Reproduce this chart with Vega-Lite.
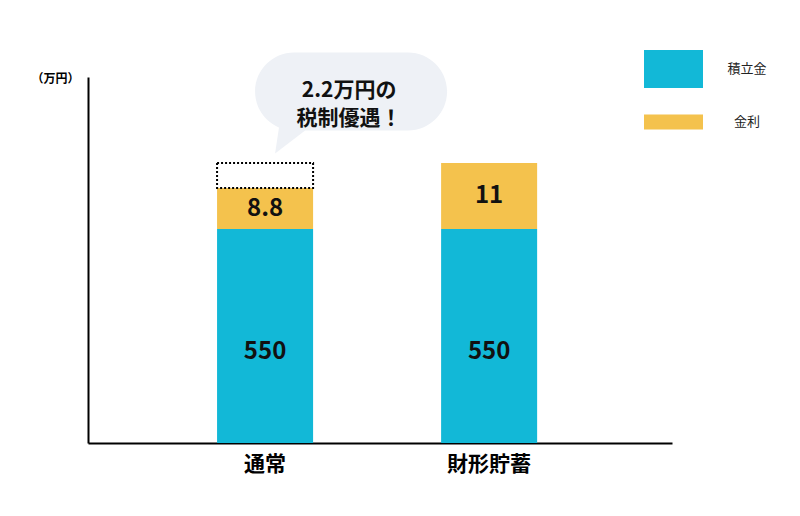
{
  "$schema": "https://vega.github.io/schema/vega-lite/v6.json",
  "width": 584,
  "height": 366,
  "autosize": "none",
  "padding": {"left": 88, "top": 77, "right": 128, "bottom": 73},
  "background": "white",
  "config": {"view": {"stroke": null}, "font": "Noto Sans CJK JP"},
  "datasets": {
    "amounts": [
      {"category": "通常", "kind": "積立金", "value": 550},
      {"category": "通常", "kind": "金利", "value": 8.8},
      {"category": "財形貯蓄", "kind": "積立金", "value": 550},
      {"category": "財形貯蓄", "kind": "金利", "value": 11}
    ],
    "benefit": [
      {"category": "通常", "from": 558.8, "to": 561, "note": "2.2万円の\n税制優遇！"}
    ]
  },
  "layer": [
    {
      "data": {"name": "amounts"},
      "mark": {"type": "bar"},
      "encoding": {
        "x": {
          "field": "category", "type": "nominal", "sort": ["通常", "財形貯蓄"],
          "scale": {"paddingInner": 0.5714, "paddingOuter": 0.589, "align": 0.489},
          "axis": {"title": null, "labelAngle": 0, "ticks": false, "grid": false, "domainColor": "#000", "domainWidth": 2,
                   "labelFontSize": 21, "labelFontWeight": "bold", "labelColor": "#000", "labelPadding": 10}
        },
        "y": {
          "field": "value", "type": "quantitative", "stack": "zero",
          "scale": {"domain": [0, 550, 558.8, 561, 570], "range": [366, 152, 111, 86, 0], "nice": false, "zero": false},
          "axis": {"title": "（万円）", "labels": false, "ticks": false, "grid": false, "domainColor": "#000", "domainWidth": 2,
                   "titleAngle": 0, "titleX": -33, "titleY": 1, "titleAlign": "center", "titleBaseline": "middle",
                   "titleFontSize": 12, "titleFontWeight": "bold", "titleColor": "#000"}
        },
        "order": {"field": "kind", "sort": "ascending"},
        "color": {
          "field": "kind", "type": "nominal",
          "scale": {"domain": ["積立金", "金利"], "range": ["#12b8d7", "#f4c24d"]},
          "legend": {
            "title": null, "orient": "none", "legendX": 560.5, "legendY": -33,
            "symbolSize": 2500, "symbolStrokeWidth": 0, "symbolType": "square",
            "labelFontSize": 13, "labelColor": "#222", "labelAlign": "center", "labelOffset": 48.5,
            "rowPadding": 9, "padding": 0,
            "encode": {"symbols": {"update": {"shape": {"signal": "datum.value === '積立金' ? 'M-1.18,-0.76H1.18V0.76H-1.18Z' : 'M-1.18,-0.3H1.18V0.3H-1.18Z'"}}}}
          }
        }
      }
    },
    {
      "data": {"name": "benefit"},
      "mark": {"type": "bar", "fill": "white", "stroke": "#000", "strokeWidth": 2, "strokeDash": [2, 2]},
      "encoding": {
        "x": {"field": "category", "type": "nominal", "sort": ["通常", "財形貯蓄"]},
        "y": {"field": "from", "type": "quantitative"},
        "y2": {"field": "to"}
      }
    },
    {
      "data": {"name": "benefit"},
      "mark": {"type": "point", "filled": true, "fill": "#eef1f6", "opacity": 1, "strokeWidth": 0, "size": 160000,
               "shape": "M0.145,-0.5525L0.715,-0.5525A0.195,0.195,0,0,1,0.715,-0.1625L0.145,-0.1625A0.195,0.195,0,0,1,0.145,-0.5525Z M0.07,-0.18L0.21,-0.17L0.05,-0.0475Z"},
      "encoding": {
        "x": {"field": "category", "type": "nominal", "sort": ["通常", "財形貯蓄"]},
        "y": {"field": "to", "type": "quantitative"}
      }
    },
    {
      "data": {"name": "benefit"},
      "mark": {"type": "text", "dx": 84, "dy": -72, "fontSize": 21, "fontWeight": "bold", "lineHeight": 28, "lineBreak": "\n",
               "align": "center", "baseline": "middle", "color": "#111"},
      "encoding": {
        "x": {"field": "category", "type": "nominal", "sort": ["通常", "財形貯蓄"]},
        "y": {"field": "to", "type": "quantitative"},
        "text": {"field": "note"}
      }
    },
    {
      "data": {"name": "amounts"},
      "mark": {"type": "text", "dy": 16, "fontSize": 24, "fontWeight": "bold", "align": "center", "baseline": "middle", "color": "#111"},
      "encoding": {
        "x": {"field": "category", "type": "nominal", "sort": ["通常", "財形貯蓄"]},
        "y": {"field": "value", "type": "quantitative", "stack": "zero", "bandPosition": 0.5},
        "detail": {"field": "kind"},
        "order": {"field": "kind", "sort": "ascending"},
        "text": {"field": "value", "condition": {"test": "datum.kind !== '積立金'", "value": ""}}
      }
    },
    {
      "data": {"name": "amounts"},
      "mark": {"type": "text", "dy": 0, "fontSize": 24, "fontWeight": "bold", "align": "center", "baseline": "middle", "color": "#111"},
      "encoding": {
        "x": {"field": "category", "type": "nominal", "sort": ["通常", "財形貯蓄"]},
        "y": {"field": "value", "type": "quantitative", "stack": "zero", "bandPosition": 0.5},
        "detail": {"field": "kind"},
        "order": {"field": "kind", "sort": "ascending"},
        "text": {"field": "value", "condition": {"test": "!(datum.kind === '金利' && datum.category === '通常')", "value": ""}}
      }
    },
    {
      "data": {"name": "amounts"},
      "mark": {"type": "text", "dy": -7, "fontSize": 24, "fontWeight": "bold", "align": "center", "baseline": "middle", "color": "#111"},
      "encoding": {
        "x": {"field": "category", "type": "nominal", "sort": ["通常", "財形貯蓄"]},
        "y": {"field": "value", "type": "quantitative", "stack": "zero", "bandPosition": 0.5},
        "detail": {"field": "kind"},
        "order": {"field": "kind", "sort": "ascending"},
        "text": {"field": "value", "condition": {"test": "!(datum.kind === '金利' && datum.category === '財形貯蓄')", "value": ""}}
      }
    }
  ]
}
